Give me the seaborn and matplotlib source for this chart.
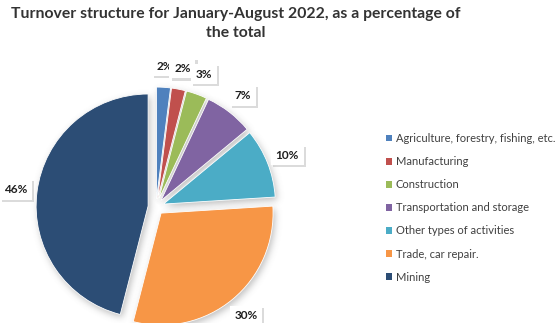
import matplotlib
matplotlib.use("Agg")
import numpy as np
import matplotlib.pyplot as plt
import matplotlib.patheffects as pe
from matplotlib.patches import Wedge
import seaborn as sns

# Turnover shares by activity, percent of total
categories = [
    "Agriculture, forestry, fishing, etc.",
    "Manufacturing",
    "Construction",
    "Transportation and storage",
    "Other types of activities",
    "Trade, car repair.",
    "Mining",
]
shares = [2, 2, 3, 7, 10, 30, 46]
title = "Turnover structure for January-August 2022, as a percentage of\nthe total"

colors = ["#4F81BD", "#C0504D", "#9BBB59", "#8064A2", "#4BACC6", "#F79646", "#2C4D75"]

sns.set_theme(style="white")
plt.rcParams["font.family"] = ["Lato", "DejaVu Sans"]

W, H, DPI = 556, 323, 100
fig = plt.figure(figsize=(W / DPI, H / DPI), dpi=DPI)
ax = fig.add_axes([0, 0, 1, 1])

# pixel geometry of the pie: centre and radius
cx, cy, r = 156, 207, 112


def set_view():
    ax.set_xlim(-cx / r, (W - cx) / r)
    ax.set_ylim(-(H - cy) / r, cy / r)
    ax.set_aspect("auto")
    ax.axis("off")


class SoftShadow:
    """agg filter: blurred grey silhouette, shifted down-right."""

    def __init__(self, sigma=3.5, dx=2, dy=3, alpha=0.45, grey=0.45):
        self.sigma, self.dx, self.dy = sigma, dx, dy
        self.alpha, self.grey = alpha, grey

    def __call__(self, im, dpi):
        pad = int(self.sigma * 3) + max(abs(self.dx), abs(self.dy)) + 1
        a = np.pad(im[..., 3], pad, mode="constant")
        xs = np.arange(-int(self.sigma * 3), int(self.sigma * 3) + 1)
        k = np.exp(-0.5 * (xs / self.sigma) ** 2)
        k /= k.sum()
        a = np.apply_along_axis(lambda m: np.convolve(m, k, mode="same"), 0, a)
        a = np.apply_along_axis(lambda m: np.convolve(m, k, mode="same"), 1, a)
        a = np.roll(a, self.dx, axis=1)
        a = np.roll(a, self.dy, axis=0)
        out = np.zeros(a.shape + (4,), dtype=float)
        out[..., :3] = self.grey
        out[..., 3] = np.clip(a * self.alpha, 0, 1)
        return out, -pad, -pad


wedges, _, autotexts = ax.pie(
    shares,
    colors=colors,
    startangle=90,
    counterclock=False,
    explode=[0.071] * len(shares),
    autopct="%.0f%%",
    pctdistance=1.19,
    wedgeprops=dict(edgecolor="white", linewidth=0.6),
    frame=True,
)
set_view()

# soft drop shadow under every slice
for w in wedges:
    sh = Wedge(w.center, w.r, w.theta1, w.theta2, facecolor="black",
               edgecolor="none", zorder=w.get_zorder() - 0.5)
    sh.set_agg_filter(SoftShadow())
    sh.set_rasterized(True)
    ax.add_patch(sh)

for t in autotexts:
    t.set_fontsize(8.5)
    t.set_fontweight("bold")
    t.set_color("#1f1f1f")
    t.set_bbox(dict(boxstyle="square,pad=0.4", facecolor="white", edgecolor="none"))
    t.get_bbox_patch().set_path_effects([
        pe.SimplePatchShadow(offset=(1.5, -1.5), shadow_rgbFace="#8a8a8a", alpha=0.3),
        pe.Normal(),
    ])

leg = fig.legend(
    wedges,
    categories,
    loc="upper left",
    bbox_to_anchor=(386 / W, 1 - 133 / H),
    frameon=False,
    fontsize=8.0,
    handlelength=0.55,
    handleheight=0.55,
    handletextpad=0.35,
    labelspacing=1.09,
    borderaxespad=0,
    borderpad=0,
)
for txt in leg.get_texts():
    txt.set_color("#404040")
for h in leg.legend_handles:
    h.set_edgecolor("none")

fig.text(236 / W, 1 - 7 / H, title, ha="center", va="top",
         fontsize=11.3, fontweight="bold", color="#333333", linespacing=1.45)

fig.savefig("out.png", dpi=DPI)
